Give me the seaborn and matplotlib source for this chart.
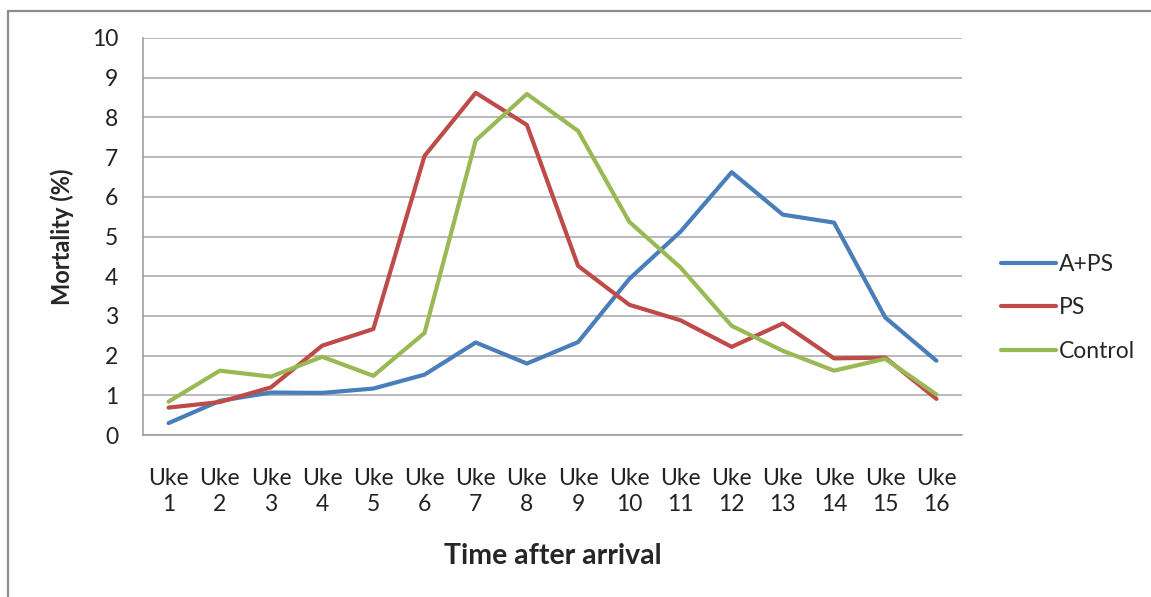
import matplotlib
matplotlib.use("Agg")
import matplotlib.pyplot as plt
import seaborn as sns
import pandas as pd
import numpy as np
from matplotlib.lines import Line2D

weeks = [f"Uke\n{i}" for i in range(1, 17)]
a_ps = [0.30, 0.86, 1.07, 1.06, 1.17, 1.52, 2.33, 1.80, 2.34, 3.93, 5.12, 6.62, 5.55, 5.35, 2.96, 1.87]
ps = [0.69, 0.83, 1.20, 2.25, 2.67, 7.03, 8.62, 7.81, 4.26, 3.28, 2.89, 2.22, 2.81, 1.93, 1.95, 0.91]
control = [0.84, 1.62, 1.47, 1.97, 1.49, 2.57, 7.42, 8.59, 7.66, 5.37, 4.22, 2.75, 2.12, 1.62, 1.92, 1.02]
series_names = ["A+PS", "PS", "Control"]
colors = ["#4A7EBB", "#BE4B48", "#98B954"]

df = pd.DataFrame({
    "idx": list(range(16)) * 3,
    "value": a_ps + ps + control,
    "series": [s for s in series_names for _ in range(16)],
})

sns.set_style("white")
plt.rcParams['font.family'] = ['Lato', 'DejaVu Sans']

fig = plt.figure(figsize=(11.51, 5.97), dpi=100)
ax = fig.add_axes([143/1151, 1-435/597, (962-143)/1151, (435-38)/597])

sns.lineplot(data=df, x="idx", y="value", hue="series", palette=colors,
             hue_order=series_names, linewidth=3.0, ax=ax, legend=False)

ax.set_xlim(-0.5, 15.5)
ax.set_ylim(0, 10)
ax.set_yticks(range(0, 11))
ax.set_yticklabels([str(i) for i in range(11)], fontsize=16.5, color="#222222")
ax.set_xticks(range(16))
ax.set_xticklabels(weeks, fontsize=16.5, color="#222222", linespacing=1.3)
ax.set_xticks(np.arange(-0.5, 16, 1), minor=True)
ax.tick_params(axis="x", which="major", length=0, pad=24)
ax.tick_params(axis="x", which="minor", length=6, width=1, color="#999999", direction="out")
ax.tick_params(axis="y", length=6, width=1, color="#999999", direction="out", pad=12)

ax.grid(axis="y", color="#A6A6A6", linewidth=1.1)
ax.grid(axis="x", visible=False)
ax.set_axisbelow(True)
for s in ["top", "right"]:
    ax.spines[s].set_visible(False)
for s in ["left", "bottom"]:
    ax.spines[s].set_color("#999999")
    ax.spines[s].set_linewidth(1.1)

ax.set_xlabel("Time after arrival", fontsize=20.5, fontweight="bold", labelpad=20)
ax.set_ylabel("Mortality (%)", fontsize=17, fontweight="bold", labelpad=13)

handles = [Line2D([0], [0], color=c, linewidth=3.0) for c in colors]
fig.legend(handles, series_names, loc="center left",
           bbox_to_anchor=(980/1151, 1-308/597), frameon=False, fontsize=16.5,
           handlelength=2.4, handletextpad=0.15, labelspacing=1.0)

# outer border (top and left visible)
fig.add_artist(Line2D([8/1151, 8/1151], [0, 1-11/597], transform=fig.transFigure,
                      color="#8C8C8C", linewidth=1.6))
fig.add_artist(Line2D([8/1151, 1], [1-11/597, 1-11/597], transform=fig.transFigure,
                      color="#8C8C8C", linewidth=1.6))

fig.savefig("out.png", dpi=100)
